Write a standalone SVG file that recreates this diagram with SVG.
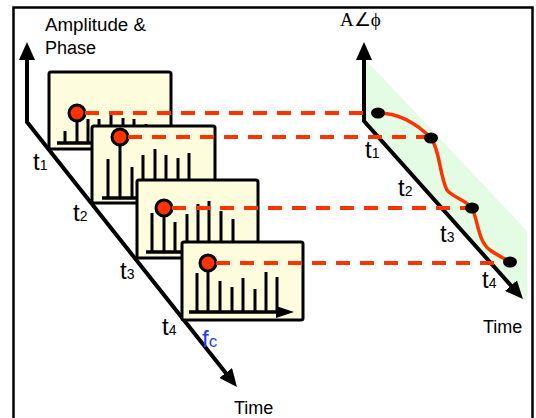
<svg xmlns="http://www.w3.org/2000/svg" width="536" height="418" viewBox="0 0 536 418">
<style>
.panel{fill:#fdfcdc;stroke:#000;stroke-width:3}
.bar{stroke:#000;stroke-width:3;fill:none}
.base{stroke:#000;stroke-width:3.5;fill:none}
.axis{stroke:#000;stroke-width:4;fill:none}
.dot{fill:#ff3300;stroke:#000;stroke-width:3}
.bdot{fill:#000}
.dash{stroke:#ff3300;stroke-width:4;stroke-dasharray:14 10;fill:none}
.lbl{font-family:"Liberation Sans",Arial,sans-serif;fill:#000}
.t{font-family:"Liberation Sans",Arial,sans-serif;font-size:24px;fill:#000}
.t tspan{font-size:14px}
</style>
<defs>
<marker id="ah" viewBox="0 0 18 16" refX="2" refY="8" markerWidth="18" markerHeight="16" markerUnits="userSpaceOnUse" orient="auto-start-reverse"><path d="M0,0 L18,8 L0,16 z" fill="#000"/></marker>
<marker id="ah2" viewBox="0 0 18 12" refX="2" refY="6" markerWidth="18" markerHeight="12" markerUnits="userSpaceOnUse" orient="auto"><path d="M0,0 L18,6 L0,12 z" fill="#000"/></marker>
</defs>
<rect x="0" y="0" width="536" height="418" fill="#fff"/>
<rect x="13.5" y="7.5" width="519" height="430" fill="none" stroke="#000" stroke-width="2.5"/>

<g id="left-axis">
<path class="axis" d="M27,58 L27,122 L227,374.5" marker-start="url(#ah)" marker-end="url(#ah)"/>
<text class="lbl" x="45" y="31" font-size="18" textLength="101" lengthAdjust="spacingAndGlyphs">Amplitude &amp;</text>
<text class="lbl" x="45" y="54" font-size="18">Phase</text>
<text class="t" x="33" y="170">t<tspan>1</tspan></text>
<text class="t" x="73" y="221">t<tspan>2</tspan></text>
<text class="t" x="120" y="279">t<tspan>3</tspan></text>
<text class="t" x="162" y="335">t<tspan>4</tspan></text>
<text x="202" y="347" font-family="Liberation Sans,Arial,sans-serif" font-size="24" fill="#1f3cff">f<tspan font-size="17">c</tspan></text>
<text class="lbl" x="234" y="414" font-size="18">Time</text>
</g>

<g id="panel1">
<rect class="panel" x="49" y="72" width="122" height="77" rx="2"/>
<path class="base" d="M57,143 L159,143" marker-end="url(#ah2)"/>
<path class="bar" d="M65,143V131 M77,143V113 M88,143V119 M99,143V119 M111,143V115 M123,143V118 M134,143V119 M146,143V124"/>
<circle class="dot" cx="77" cy="113" r="8"/>
</g>
<g id="panel2">
<rect class="panel" x="92" y="126" width="123" height="77" rx="2"/>
<path class="base" d="M102,198 L204,198" marker-end="url(#ah2)"/>
<path class="bar" d="M108,198V159 M120,198V137 M132,198V167 M143,198V155 M155,198V149 M166,198V155 M178,198V158 M189,198V153"/>
<circle class="dot" cx="120" cy="137" r="8"/>
</g>
<g id="panel3">
<rect class="panel" x="137" y="180" width="121" height="78" rx="2"/>
<path class="base" d="M146,252 L248,252" marker-end="url(#ah2)"/>
<path class="bar" d="M152,252V213 M164,252V208 M175,252V222 M187,252V214 M198,252V204 M209,252V201 M221,252V211 M233,252V219"/>
<circle class="dot" cx="164" cy="208" r="8"/>
</g>
<g id="panel4">
<rect class="panel" x="182" y="242" width="121" height="78" rx="2"/>
<path class="base" d="M189,312 L278,312" marker-end="url(#ah2)"/>
<path class="bar" d="M197,312V273 M208,312V263 M220,312V281 M232,312V287 M243,312V278 M255,312V289 M266,312V272 M277,312V277"/>
<circle class="dot" cx="208" cy="263" r="8"/>
</g>

<g id="right-plot">
<polygon points="364,58 527,231 527,302 364,122" fill="#e4fbe4"/>
<path class="axis" d="M364,58 L364,121 L512.3,287.1" marker-start="url(#ah)" marker-end="url(#ah)"/>
<path d="M378,113 C395,113 412,119 431,138 C440,150 440,178 447,190 C452,197 466,200 472,208 C478,220 478,242 490,250 C498,256 504,258 510,262" fill="none" stroke="#ff3300" stroke-width="3.5"/>
<text x="340" y="26" font-family="Liberation Serif,'Times New Roman',serif" font-size="19" fill="#000">A∠ϕ</text>
<text class="t" x="365" y="158">t<tspan>1</tspan></text>
<text class="t" x="398" y="196">t<tspan>2</tspan></text>
<text class="t" x="440" y="242">t<tspan>3</tspan></text>
<text class="t" x="482" y="288">t<tspan>4</tspan></text>
<text class="lbl" x="483" y="333" font-size="18">Time</text>
</g>

<g id="connectors">
<path class="dash" d="M85,113 H372"/>
<path class="dash" d="M128,137 H425"/>
<path class="dash" d="M172,208 H466"/>
<path class="dash" d="M216,263 H504"/>
</g>
<g id="samples">
<ellipse class="bdot" cx="378" cy="113" rx="7" ry="5.5"/>
<ellipse class="bdot" cx="431" cy="138" rx="7" ry="5.5"/>
<ellipse class="bdot" cx="472" cy="208" rx="7" ry="5.5"/>
<ellipse class="bdot" cx="510" cy="262" rx="7" ry="5.5"/>
</g>
</svg>
